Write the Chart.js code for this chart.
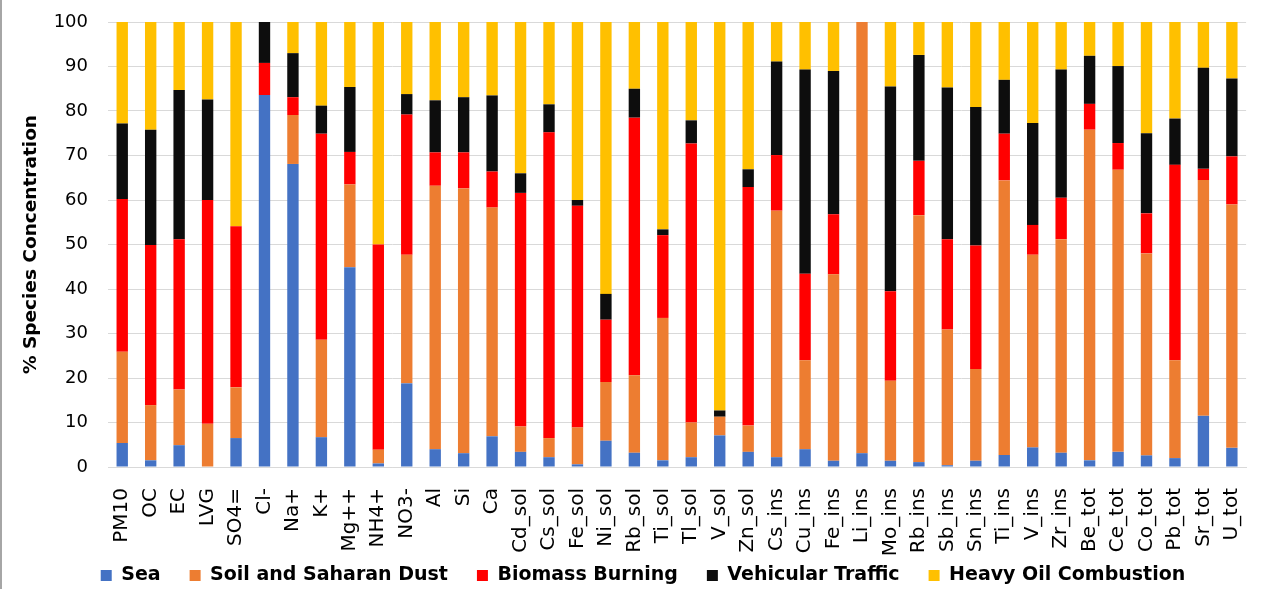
<!DOCTYPE html>
<html>
<head>
<meta charset="utf-8">
<script src="https://cdn.jsdelivr.net/npm/chart.js@4.4.1/dist/chart.umd.min.js"></script>
<style>
  body { margin: 0; background: #fff; }
  #wrap { position: relative; width: 1277px; height: 589px; }
  #edge { position: absolute; left: 0; top: 0; width: 2px; height: 589px; background: #a6a6a6; }
</style>
</head>
<body>
<div id="wrap">
  <canvas id="chart" width="1277" height="589"></canvas>
  <div id="edge"></div>
</div>
<script>
const species = ['PM10', 'OC', 'EC', 'LVG', 'SO4=', 'Cl-', 'Na+', 'K+', 'Mg++', 'NH4+', 'NO3-',
  'Al', 'Si', 'Ca', 'Cd_sol', 'Cs_sol', 'Fe_sol', 'Ni_sol', 'Rb_sol', 'Ti_sol', 'Tl_sol', 'V_sol',
  'Zn_sol', 'Cs_ins', 'Cu_ins', 'Fe_ins', 'Li_ins', 'Mo_ins', 'Rb_ins', 'Sb_ins', 'Sn_ins', 'Ti_ins',
  'V_ins', 'Zr_ins', 'Be_tot', 'Ce_tot', 'Co_tot', 'Pb_tot', 'Sr_tot', 'U_tot'];

const sea = [5.4, 1.5, 4.9, 0, 6.5, 83.6, 68.1, 6.7, 44.9, 0.8, 18.8,
  4.0, 3.1, 6.9, 3.4, 2.2, 0.6, 5.9, 3.2, 1.5, 2.2, 7.1,
  3.4, 2.2, 4.0, 1.4, 3.1, 1.4, 1.1, 0.4, 1.4, 2.7,
  4.4, 3.2, 1.5, 3.4, 2.6, 2.0, 11.5, 4.3];

const soilDust = [20.5, 12.4, 12.5, 9.7, 11.4, 0, 11.0, 21.9, 18.6, 3.1, 28.9,
  59.2, 59.5, 51.4, 5.7, 4.3, 8.3, 13.2, 17.4, 32.0, 7.8, 4.2,
  5.9, 55.4, 20.0, 41.9, 96.9, 18.0, 55.5, 30.5, 20.6, 61.7,
  43.3, 48.0, 74.3, 63.4, 45.4, 22.0, 53.0, 54.7];

const biomass = [34.3, 36.0, 33.8, 50.3, 36.2, 7.2, 4.0, 46.3, 7.3, 46.1, 31.5,
  7.5, 8.1, 8.1, 52.5, 68.7, 49.8, 14.0, 57.9, 18.6, 62.7, 0,
  53.6, 12.5, 19.4, 13.5, 0, 20.1, 12.2, 20.3, 27.8, 10.5,
  6.7, 9.3, 5.8, 6.0, 9.0, 43.9, 2.5, 10.8];

const traffic = [17.0, 25.9, 33.5, 22.6, 0, 9.2, 9.9, 6.3, 14.6, 0, 4.6,
  11.7, 12.4, 17.1, 4.4, 6.3, 1.3, 5.8, 6.5, 1.3, 5.2, 1.4,
  4.0, 21.0, 45.9, 32.2, 0, 46.0, 23.8, 34.1, 31.1, 12.1,
  22.9, 28.8, 10.8, 17.3, 18.0, 10.4, 22.7, 17.5];

const heavyOil = [22.8, 24.2, 15.3, 17.4, 45.9, 0, 7.0, 18.8, 14.6, 50.0, 16.2,
  17.6, 16.9, 16.5, 34.0, 18.5, 40.0, 61.1, 15.0, 46.6, 22.1, 87.3,
  33.1, 8.9, 10.7, 11.0, 0, 14.5, 7.4, 14.7, 19.1, 13.0,
  22.7, 10.7, 7.6, 9.9, 25.0, 21.7, 10.3, 12.7];

const yTicks = [0, 10, 20, 30, 40, 50, 60, 70, 80, 90, 100];

const fontFamily = '"DejaVu Sans", sans-serif';
const textColor = '#000000';
const gridColor = '#d9d9d9';

// the legend sits partly beside the long rotated tick labels, so move it after layout
const legendTop = 537;
const legendShiftX = 10;
const legendNudge = {
  id: 'legendNudge',
  afterLayout(chart) {
    const legend = chart.legend;
    legend.top = legendTop;
    legend.bottom = chart.height;
    legend.height = legend.bottom - legend.top;
    legend.left += legendShiftX;
    legend.right += legendShiftX;
  }
};

const makeSet = (label, data, color) => ({
  label,
  data,
  backgroundColor: color,
  borderWidth: 0,
  barPercentage: 0.4,
  categoryPercentage: 1.0
});

new Chart(document.getElementById('chart'), {
  type: 'bar',
  data: {
    labels: species,
    datasets: [
      makeSet('Sea', sea, '#4472C4'),
      makeSet('Soil and Saharan Dust', soilDust, '#ED7D31'),
      makeSet('Biomass Burning', biomass, '#FF0000'),
      makeSet('Vehicular Traffic', traffic, '#0D0D0D'),
      makeSet('Heavy Oil Combustion', heavyOil, '#FFC000')
    ]
  },
  plugins: [legendNudge],
  options: {
    responsive: false,
    animation: false,
    devicePixelRatio: 1,
    layout: {
      padding: { top: 22, right: 11, bottom: 0, left: 0 }
    },
    plugins: {
      tooltip: { enabled: false },
      legend: {
        position: 'bottom',
        maxHeight: 27,
        labels: {
          color: textColor,
          boxWidth: 11,
          boxHeight: 11,
          padding: 29,
          font: { family: fontFamily, size: 19, weight: 'bold' }
        }
      }
    },
    scales: {
      x: {
        stacked: true,
        grid: { display: false, drawTicks: false },
        border: { color: gridColor },
        ticks: {
          color: textColor,
          autoSkip: false,
          minRotation: 90,
          maxRotation: 90,
          padding: 21,
          font: { family: fontFamily, size: 20 }
        },
        afterFit: (scale) => { scale.height = 95; }
      },
      y: {
        stacked: true,
        min: 0,
        max: 100,
        afterBuildTicks: (scale) => {
          scale.ticks = yTicks.map((v) => ({ value: v }));
        },
        grid: { color: gridColor, drawTicks: false },
        border: { display: false },
        ticks: {
          color: textColor,
          padding: 20,
          font: { family: fontFamily, size: 18 }
        },
        title: {
          display: true,
          text: '% Species Concentration',
          color: textColor,
          padding: { top: 20, bottom: 0 },
          font: { family: fontFamily, size: 18.5, weight: 'bold' }
        },
        afterFit: (scale) => {
          scale.width = 108;
          scale.paddingTop = 0;
          scale.paddingBottom = 0;
        }
      }
    }
  }
});
</script>
</body>
</html>
